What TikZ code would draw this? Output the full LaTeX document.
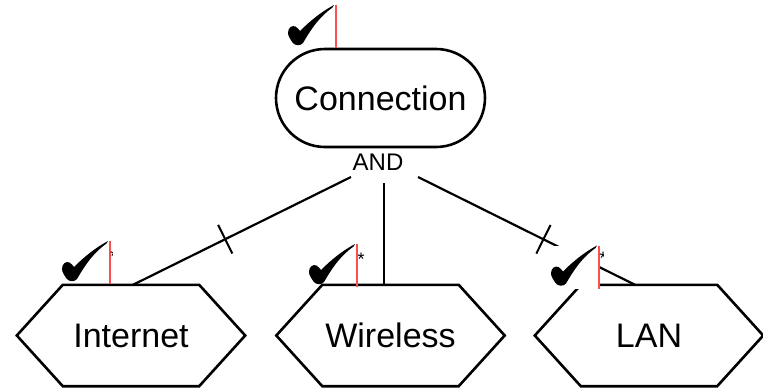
\documentclass[tikz,border=0pt]{standalone}
\usepackage{fontspec}
\setmainfont{Liberation Sans}
\usetikzlibrary{calc}
\definecolor{redline}{RGB}{250,80,80}
\tikzset{
  shapeline/.style={line width=2.6pt, draw=black},
  conn/.style={line width=2.2pt, draw=black},
  hexnode/.style={minimum width=228pt, minimum height=101pt, inner sep=0pt, font=\fontsize{34}{40}\selectfont},
  stadium/.style={shapeline, rounded corners=49pt, minimum width=209pt, minimum height=98pt, inner sep=0pt, font=\fontsize{34}{40}\selectfont},
  andlabel/.style={font=\fontsize{24}{28}\selectfont, inner sep=0pt},
  tickmark/.style={line width=2pt},
  asterisk/.style={font=\fontsize{18}{20}\selectfont, inner sep=0pt, anchor=north},
  chk/.pic={
    \path[pic actions] (-51,0) rectangle (0,43);
    \begin{scope}[shift={(-48,40)}, yscale=-1]
      \fill[black] (0,12) .. controls (0,17.5) and (4,20) .. (7.5,18.5)
        .. controls (9.5,17.5) and (10.5,15.5) .. (12,14)
        .. controls (22,24) and (33,33) .. (46,40) -- (44.5,37.5)
        .. controls (30,27) and (22,14) .. (15,2)
        .. controls (12.5,-1) and (7,-1) .. (4.5,2.5)
        .. controls (2.5,5.5) and (0,9) .. (0,12) -- cycle;
    \end{scope}
    \draw[redline, line width=1.1pt] (0,0) -- (0,43);
  }
}
\begin{document}
\begin{tikzpicture}[x=1pt, y=-1pt]
  \useasboundingbox (0,0) rectangle (763,389);
  \fill[white] (0,0) rectangle (763,389);

  % nodes
  \node[stadium] (con) at (380.5,98) {Connection};
  \node[andlabel] (and) at (378,162) {AND};
  \node[hexnode] (i) at (131,335.5) {Internet};
  \node[hexnode] (w) at (390.5,335.5) {Wireless};
  \node[hexnode] (l) at (649,335.5) {LAN};
  \foreach \n in {i,w,l}{
    \draw[shapeline, line join=miter]
      ([xshift=46pt]\n.north west) -- ([xshift=-46pt]\n.north east) -- (\n.east)
      -- ([xshift=-46pt]\n.south east) -- ([xshift=46pt]\n.south west) -- (\n.west) -- cycle;
  }

  % connector free ends near the AND label
  \coordinate (aL) at (351,177);
  \coordinate (aM) at (384,183);
  \coordinate (aR) at (418,177);

  \draw[conn] (aL) -- coordinate[pos=0.577] (tL) ([xshift=2pt]i.north);
  \draw[conn] (aM) -- ([xshift=-6.5pt]w.north);
  \draw[conn] (aR) -- coordinate[pos=0.578] (tR) ([xshift=-14pt]l.north);

  % cross ticks
  \draw[tickmark] ($(tL)!16pt!90:(aL)$) -- ($(tL)!16pt!-90:(aL)$);
  \draw[tickmark] ($(tR)!16pt!90:(aR)$) -- ($(tR)!16pt!-90:(aR)$);

  % check marks
  \pic at (336,5) {chk};
  \pic at (110,241) {chk};
  \pic at (357,244) {chk};
  \pic[fill=white] at (599,245.5) {chk};

  % asterisks
  \node[asterisk] (astW) at (361,253) {*};
  \begin{scope}
    \clip (110.6,248) rectangle (112,262);
    \node[asterisk] (astI) at (114,250) {*};
  \end{scope}
  \begin{scope}
    \clip (599.6,248) rectangle (603.5,264);
    \node[asterisk] (astL) at (603,252) {*};
  \end{scope}
\end{tikzpicture}
\end{document}
